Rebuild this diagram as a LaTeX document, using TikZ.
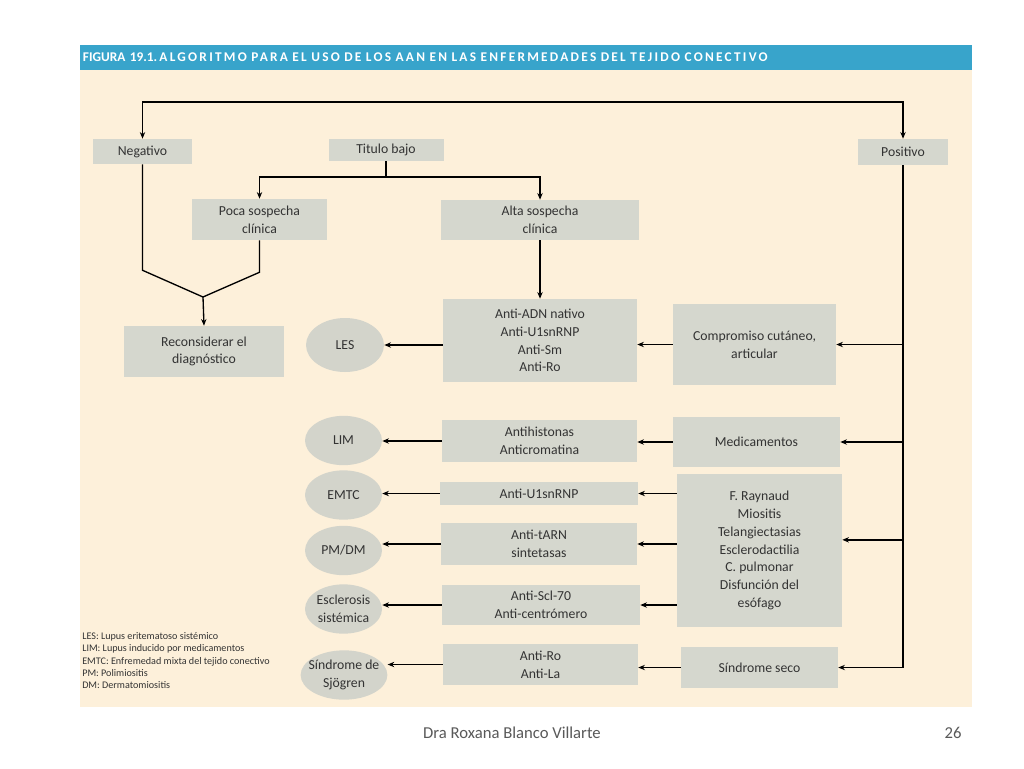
\documentclass[tikz,border=0pt]{standalone}
\usepackage{fontspec}
\setmainfont{Carlito}
\usetikzlibrary{arrows.meta, positioning, shapes.geometric}
\definecolor{aancream}{HTML}{FDF0DA}
\definecolor{aanblue}{HTML}{38A4CB}
\definecolor{aangray}{HTML}{D5D7CE}
\definecolor{aanoval}{HTML}{D3D4CB}
\definecolor{aantext}{HTML}{333333}
\definecolor{aanfoot}{HTML}{595959}

\begin{document}
\begin{tikzpicture}[
  x=0.75pt, y=-0.75pt,
  every node/.style={font=\fontsize{10.3}{13.3}\selectfont, text=aantext},
  box/.style={rectangle, fill=aangray, align=center, inner sep=0pt},
  oval/.style={ellipse, fill=aanoval, align=center, inner xsep=-3.5pt, inner ysep=0pt, minimum width=57.75pt, minimum height=37pt},
  arr/.style={-{Stealth[length=5pt, width=4pt]}, line width=1pt},
  ln/.style={line width=1pt},
]
\useasboundingbox (0,0) rectangle (1024,768);
\fill[white] (0,0) rectangle (1024,768);
\fill[aancream] (80,45) rectangle (972,707);

% Title bar
\node[rectangle, fill=aanblue, anchor=west, minimum width=669pt, minimum height=18.75pt, inner xsep=2pt, text width=665pt, align=left, font=\fontsize{10}{11}\bfseries\selectfont, text=white] (title) at (80,57.5)
  {FIGURA 19.1.\,{\addfontfeatures{LetterSpace=17}ALGORITMO PARA EL USO DE LOS AAN EN LAS ENFERMEDADES DEL TEJIDO CONECTIVO}};

% First row
\node[box, minimum width=74.25pt, minimum height=18.75pt] (neg) at (142.5,151.5) {Negativo};
\node[box, minimum width=86.25pt, minimum height=16.5pt] (titulo) at (386,150) {Titulo bajo};
\node[box, minimum width=67.5pt, minimum height=19.5pt] (pos) at (903,152) {Positivo};
\node[box, minimum width=101.25pt, minimum height=30.75pt] (poca) at (259.5,219.5) {Poca sospecha\\clínica};
\node[box, minimum width=148.5pt, minimum height=30pt] (alta) at (540,220) {Alta sospecha\\clínica};
\node[box, minimum width=120pt, minimum height=38.25pt] (recon) at (204,351.5) {Reconsiderar el\\diagnóstico};

% Antibodies
\node[box, minimum width=145.5pt, minimum height=62.25pt] (adn) at (540,340.5) {Anti-ADN nativo\\Anti-U1snRNP\\Anti-Sm\\Anti-Ro};
\node[box, minimum width=146.25pt, minimum height=31.5pt] (antih) at (539.5,441) {Antihistonas\\Anticromatina};
\node[box, minimum width=148.5pt, minimum height=17.25pt] (u1) at (539,493.5) {Anti-U1snRNP};
\node[box, minimum width=147pt, minimum height=31.5pt] (tarn) at (539,544) {Anti-tARN\\sintetasas};
\node[box, minimum width=148.5pt, minimum height=30pt] (scl) at (541,605) {Anti-Scl-70\\Anti-centrómero};
\node[box, minimum width=146.25pt, minimum height=30.75pt] (rola) at (540.5,664.5) {Anti-Ro\\Anti-La};

% Clinical findings
\node[box, minimum width=122.25pt, minimum height=60.75pt] (comp) at (754.5,344.5) {Compromiso cutáneo,\\articular};
\node[box, minimum width=125.25pt, minimum height=37.5pt] (medic) at (756.5,442) {Medicamentos};
\node[box, minimum width=123.75pt, minimum height=114.75pt] (rayn) at (759.5,550.5) {F. Raynaud\\Miositis\\Telangiectasias\\Esclerodactilia\\C. pulmonar\\Disfunción del\\esófago};
\node[box, minimum width=117.75pt, minimum height=30.75pt] (seco) at (759.5,667.5) {Síndrome seco};

% Diseases
\node[oval, minimum width=58.5pt, minimum height=40.5pt] (les) at (345,345) {LES};
\node[oval] (lim) at (343.5,440.5) {LIM};
\node[oval] (emtc) at (343.5,495) {EMTC};
\node[oval] (pmdm) at (343.5,550.5) {PM/DM};
\node[oval] (escl) at (343.5,609) {Esclerosis\\sistémica};
\node[oval] (sjog) at (344,675) {Síndrome de\\Sjögren};

% Legend
\node[anchor=north west, align=left, inner sep=0pt, font=\fontsize{7.6}{9.3}\selectfont] (legend) at (82,632)
  {LES: Lupus eritematoso sistémico\\LIM: Lupus inducido por medicamentos\\EMTC: Enfremedad mixta del tejido conectivo\\PM: Polimiositis\\DM: Dermatomiositis};

% Footer
\node[font=\fontsize{12.5}{14}\selectfont, text=aanfoot] (author) at (512,733) {Dra Roxana Blanco Villarte};
\node[font=\fontsize{12.5}{14}\selectfont, text=aanfoot] (page) at (953,733) {26};

% Connectors
\coordinate (top) at (523,102);
\draw[arr] (top) -| (neg.north);
\draw[arr] (top) -| (pos.north);
\coordinate (split) at (386,177);
\draw[ln] (titulo.south) -- (split);
\draw[arr] (split) -| (poca.north);
\draw[arr] (split) -| (alta.north);
\coordinate (merge) at (203,297);
\draw[ln] (neg.south) -- ++(0,106) -- (merge);
\draw[ln] (poca.south) -- ++(0,32) -- (merge);
\draw[arr] (merge) -- (recon.north);
\draw[arr] (alta.south) -- (adn.north);

\draw[arr] (pos.south) |- (seco.east);
\draw[arr] (pos.south |- comp.east) -- (comp.east);
\draw[arr] (pos.south |- medic.east) -- (medic.east);
\draw[arr] ([yshift=8pt]pos.south |- rayn.east) -- ([yshift=8pt]rayn.east);

\draw[arr] (comp.west) -- (comp.west -| adn.east);
\draw[arr] (medic.west) -- (medic.west -| antih.east);
\draw[arr] (rayn.west |- u1.east) -- (u1.east);
\draw[arr] (rayn.west |- tarn.east) -- (tarn.east);
\draw[arr] (rayn.west |- scl.east) -- (scl.east);
\draw[arr] (seco.west) -- (seco.west -| rola.east);

\draw[arr] (adn.west |- les.east) -- (les.east);
\draw[arr] (antih.west) -- (antih.west -| lim.east);
\draw[arr] (u1.west) -- (u1.west -| emtc.east);
\draw[arr] (tarn.west) -- (tarn.west -| pmdm.east);
\draw[arr] (scl.west) -- (scl.west -| escl.east);
\draw[arr] (rola.west) -- (rola.west -| sjog.east);
\end{tikzpicture}
\end{document}
